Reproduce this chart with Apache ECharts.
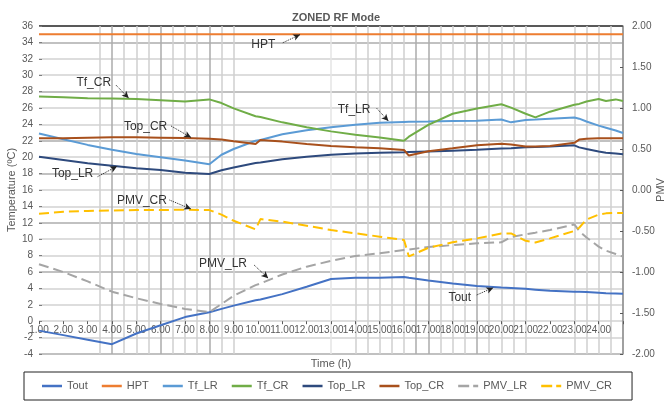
<!DOCTYPE html>
<html>
<head>
<meta charset="utf-8">
<script src="https://cdn.jsdelivr.net/npm/echarts@6/dist/echarts.min.js"></script>
<style>html,body{margin:0;padding:0;background:#fff;}#c{width:667px;height:405px;}</style>
</head>
<body>
<div id="c"></div>
<script>
// Time points (h)
const hours = [1, 2, 3, 4, 5, 6, 7, 8, 8.5, 9, 9.9, 10.1, 11, 12, 13, 14, 15, 16, 16.2, 17, 18, 19, 20, 20.4, 21, 21.4, 22, 23, 23.2, 23.5, 24, 24.3, 24.7, 25];
// Temperatures (°C), left axis
const tout  = [-1.15, -1.7, -2.25, -2.8, -1.5, -0.5, 0.5, 1.1, 1.5, 1.9, 2.55, 2.65, 3.3, 4.2, 5.15, 5.3, 5.3, 5.4, 5.3, 4.95, 4.6, 4.3, 4.1, 4.05, 3.95, 3.85, 3.7, 3.6, 3.58, 3.55, 3.48, 3.42, 3.38, 3.35];
const hpt   = [35, 35, 35, 35, 35, 35, 35, 35, 35, 35, 35, 35, 35, 35, 35, 35, 35, 35, 35, 35, 35, 35, 35, 35, 35, 35, 35, 35, 35, 35, 35, 35, 35, 35];
const tfLR  = [22.9, 22.2, 21.5, 20.9, 20.4, 20.0, 19.6, 19.15, 20.3, 21.0, 22.0, 22.1, 22.8, 23.3, 23.65, 23.95, 24.2, 24.3, 24.32, 24.35, 24.4, 24.45, 24.6, 24.25, 24.55, 24.6, 24.7, 24.85, 24.7, 24.35, 23.85, 23.6, 23.25, 22.95];
const tfCR  = [27.4, 27.3, 27.2, 27.15, 27.1, 26.95, 26.8, 27.05, 26.6, 25.95, 25.0, 24.9, 24.25, 23.65, 23.15, 22.75, 22.4, 22.0, 22.5, 23.95, 25.3, 25.95, 26.45, 26.05, 25.3, 24.85, 25.55, 26.4, 26.5, 26.8, 27.1, 26.85, 27.05, 26.85];
const topLR = [20.05, 19.65, 19.25, 18.95, 18.65, 18.45, 18.1, 17.95, 18.4, 18.75, 19.3, 19.35, 19.75, 20.05, 20.3, 20.45, 20.55, 20.6, 20.62, 20.7, 20.8, 20.9, 21.05, 21.1, 21.2, 21.25, 21.3, 21.45, 21.2, 21.0, 20.7, 20.55, 20.45, 20.35];
const topCR = [22.3, 22.3, 22.38, 22.42, 22.42, 22.38, 22.34, 22.26, 22.15, 21.95, 21.6, 22.1, 21.9, 21.6, 21.37, 21.2, 21.08, 20.88, 20.2, 20.72, 21.08, 21.45, 21.65, 21.55, 21.3, 21.3, 21.37, 21.75, 22.15, 22.25, 22.3, 22.3, 22.3, 22.3];
// PMV, right axis
const pmvLR = [-0.905, -1.0, -1.115, -1.24, -1.32, -1.39, -1.45, -1.49, -1.39, -1.29, -1.16, -1.14, -1.03, -0.935, -0.865, -0.805, -0.772, -0.732, -0.725, -0.695, -0.672, -0.65, -0.638, -0.575, -0.54, -0.52, -0.488, -0.42, -0.5, -0.58, -0.69, -0.74, -0.78, -0.813];
const pmvCR = [-0.29, -0.265, -0.256, -0.25, -0.245, -0.245, -0.24, -0.245, -0.3, -0.375, -0.48, -0.355, -0.386, -0.435, -0.488, -0.528, -0.569, -0.61, -0.81, -0.705, -0.638, -0.59, -0.53, -0.53, -0.62, -0.64, -0.59, -0.5, -0.46, -0.36, -0.3, -0.285, -0.28, -0.28];

const seriesNames = ['Tout', 'HPT', 'Tf_LR', 'Tf_CR', 'Top_LR', 'Top_CR', 'PMV_LR', 'PMV_CR'];
const seriesColors = ['#4472C4', '#ED7D31', '#5B9BD5', '#70AD47', '#2E4A7D', '#A8501C', '#A5A5A5', '#FFC000'];
const seriesValues = [tout, hpt, tfLR, tfCR, topLR, topCR, pmvLR, pmvCR];

const xTickMin = 1, xTickMax = 25;

// Vertical grid pattern (per half hour from 1 to 25)
const vGrid = [];
for (let i = 0; i <= 48; i++) {
  const h = 1 + i * 0.5;
  let c = 'rgba(0,0,0,0)';
  if ((h >= 3.5 && h <= 9) || (h >= 14 && h <= 21) || h >= 23) c = '#CFCFCF';
  if (h === 13) c = '#E4E4E4';
  if ([4, 6, 8, 16.5, 17, 19].indexOf(h) >= 0) c = '#ABABAB';
  vGrid.push(c);
}
// Horizontal grid colours (-4 .. 36 step 2)
const hGrid = [];
for (let v = -4; v <= 36; v += 2) {
  let c = '#D2D2D2';
  if ([-4, 6, 12, 18, 22, 28, 34].indexOf(v) >= 0) c = '#ADADAD';
  if (v === 36) c = '#222222';
  hGrid.push(c);
}

function note(text, textPos, from, to) {
  return {
    markLine: {
      silent: true, animation: false,
      symbol: ['none', 'arrow'], symbolSize: [5, 7],
      lineStyle: { type: 'dotted', color: '#222', width: 1 },
      label: { show: false },
      emphasis: { disabled: true },
      data: [[{ coord: from }, { coord: to }]]
    },
    markPoint: {
      silent: true, animation: false,
      symbol: 'circle', symbolSize: 1,
      itemStyle: { color: 'rgba(0,0,0,0)' },
      label: { show: true, position: 'inside', formatter: text, color: '#333', fontSize: 12, fontFamily: 'Liberation Sans' },
      data: [{ coord: textPos }]
    }
  };
}

const notes = {
  'Tout':   note('Tout',   [18.29, 2.85], [18.99, 3.2], [19.67, 4.09]),
  'HPT':    note('HPT',    [10.22, 33.74], [11.02, 33.96], [11.73, 34.95]),
  'Tf_LR':  note('Tf_LR',  [13.95, 25.76], [14.88, 25.96], [15.36, 24.4]),
  'Tf_CR':  note('Tf_CR',  [3.25, 29.13], [4.16, 28.8], [4.69, 27.2]),
  'Top_LR': note('Top_LR', [2.38, 17.98], [3.41, 17.63], [4.21, 18.9]),
  'Top_CR': note('Top_CR', [5.38, 23.72], [6.43, 23.8], [7.25, 22.4]),
  'PMV_LR': note('PMV_LR', [8.56, -0.9], [9.84, -0.915], [10.42, -1.077]),
  'PMV_CR': note('PMV_CR', [5.23, -0.126], [6.36, -0.122], [7.25, -0.232])
};

const series = seriesNames.map((name, k) => {
  const isPMV = k >= 6;
  const s = {
    name: name,
    type: 'line',
    xAxisIndex: 0,
    yAxisIndex: isPMV ? 1 : 0,
    data: hours.map((h, i) => [h, seriesValues[k][i]]),
    showSymbol: false,
    symbol: 'none',
    color: seriesColors[k],
    lineStyle: { width: 2, color: seriesColors[k], type: isPMV ? [10, 5] : 'solid' },
    z: 3
  };
  return Object.assign(s, notes[name]);
});

const solidIcon = 'path://M0,0h20v2.5h-20z';
const dashIcon = 'path://M0,0h11v2.5h-11z M15,0h5v2.5h-5z';

const chart = echarts.init(document.getElementById('c'), null, { renderer: 'canvas' });
chart.setOption({
  animation: false,
  backgroundColor: '#fff',
  textStyle: { fontFamily: 'Liberation Sans' },
  title: {
    text: 'ZONED RF Mode', left: 331, textAlign: 'center', top: 7,
    textStyle: { fontSize: 11, fontWeight: 'bold', color: '#595959', fontFamily: 'Liberation Sans' }
  },
  grid: { left: 39, right: 44, top: 26, bottom: 51, containLabel: false, outerBoundsMode: 'none' },
  legend: {
    data: seriesNames.map((n, k) => ({ name: n, icon: k >= 6 ? dashIcon : solidIcon })),
    left: 24, top: 372,
    padding: [7, 20, 7, 18],
    itemGap: 14, itemWidth: 20, itemHeight: 2.5,
    borderColor: '#222', borderWidth: 1,
    textStyle: { fontSize: 11, color: '#595959', fontFamily: 'Liberation Sans', lineHeight: 14 }
  },
  xAxis: [{
    type: 'value', min: xTickMin, max: xTickMax, interval: 1,
    position: 'bottom', offset: -32.8,
    name: 'Time (h)', nameLocation: 'middle', nameGap: 37, nameMoveOverlap: false,
    nameTextStyle: { fontSize: 11, color: '#595959' },
    axisLine: { show: true, onZero: false, lineStyle: { color: 'rgba(0,0,0,0)' } },
    axisTick: { show: true, inside: false, length: 3, lineStyle: { color: '#595959' } },
    axisLabel: {
      fontSize: 10, color: '#595959', margin: 4,
      formatter: v => (v >= xTickMax ? '' : v.toFixed(2))
    },
    splitLine: { show: false }
  }, {
    type: 'value', min: xTickMin, max: xTickMax, interval: 0.5,
    position: 'top',
    axisLine: { show: false, onZero: false }, axisTick: { show: false }, axisLabel: { show: false },
    splitLine: { show: true, lineStyle: { color: vGrid, width: 1.5 } }
  }],
  yAxis: [{
    type: 'value', min: -4, max: 36, interval: 2,
    name: 'Temperature (ºC)', nameLocation: 'middle', nameGap: 22, nameRotate: 90, nameMoveOverlap: false,
    nameTextStyle: { fontSize: 11, color: '#595959' },
    axisLine: { show: false, onZero: false },
    axisTick: { show: true, inside: true, length: 3, lineStyle: { color: '#7F7F7F' } },
    axisLabel: { fontSize: 10, color: '#595959', margin: 6 },
    splitLine: { show: true, lineStyle: { color: hGrid, width: 1.5 } }
  }, {
    type: 'value', min: -2, max: 2, interval: 0.5,
    name: 'PMV', nameLocation: 'middle', nameGap: 32, nameRotate: 90, nameMoveOverlap: false,
    nameTextStyle: { fontSize: 11, color: '#595959' },
    axisLine: { show: true, onZero: false, lineStyle: { color: '#8C8C8C', width: 1.5 } },
    axisTick: { show: true, inside: true, length: 3, lineStyle: { color: '#595959' } },
    axisLabel: { fontSize: 10, color: '#595959', margin: 9, formatter: v => v.toFixed(2) },
    splitLine: { show: false }
  }],
  series: series
});
</script>
</body>
</html>
